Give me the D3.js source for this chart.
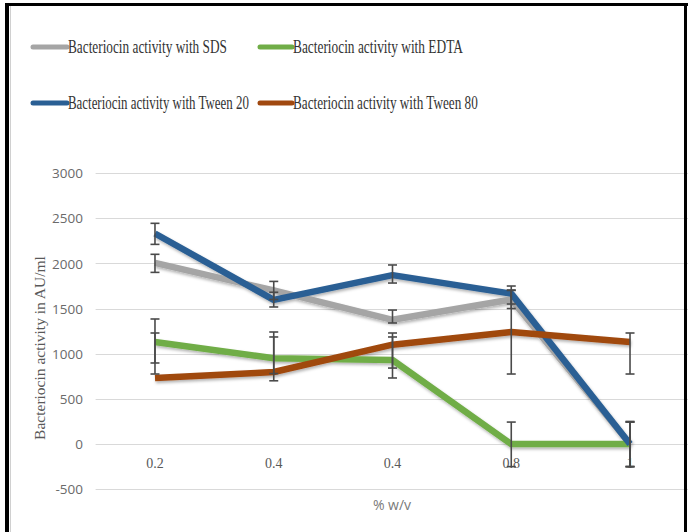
<!DOCTYPE html>
<html>
<head>
<meta charset="utf-8">
<script src="https://cdn.jsdelivr.net/npm/d3@7"></script>
<style>
  html, body { margin: 0; padding: 0; background: #fff; }
  svg { display: block; }
</style>
</head>
<body>
<svg id="chart" width="688" height="532"></svg>
<script>
// ---- data ----
const categories = ["0.2", "0.4", "0.4 ", "0.8", "1"];
const yTicks = [-500, 0, 500, 1000, 1500, 2000, 2500, 3000];

const seriesNames = [
  "Bacteriocin activity with SDS",
  "Bacteriocin activity with EDTA",
  "Bacteriocin activity with Tween 20",
  "Bacteriocin activity with Tween 80"
];
const seriesColors = ["#A5A5A5", "#70AD47", "#2A5F94", "#A0480F"];

const sdsValues   = [2005, 1700, 1375, 1600, 0];
const sdsLow      = [1900, 1600, 1340, 1500, -250];
const sdsHigh     = [2100, 1800, 1483, 1700, 250];

const edtaValues  = [1130, 950, 930, 0, 0];
const edtaLow     = [897, 700, 731, -250, -250];
const edtaHigh    = [1384, 1185, 1185, 243, 243];

const tw20Values  = [2330, 1595, 1870, 1665, 0];
const tw20Low     = [2210, 1517, 1782, 1550, -250];
const tw20High    = [2443, 1680, 1982, 1749, 243];

const tw80Values  = [730, 797, 1100, 1240, 1130];
const tw80Low     = [775, 780, 841, 775, 775];
const tw80High    = [1229, 1240, 1229, 1705, 1229];

const valueSets = [sdsValues, edtaValues, tw20Values, tw80Values];
const lowSets   = [sdsLow, edtaLow, tw20Low, tw80Low];
const highSets  = [sdsHigh, edtaHigh, tw20High, tw80High];

// ---- drawing ----
const svg = d3.select("#chart");
const W = 688, H = 532;

const defs = svg.append("defs");
const f = defs.append("filter").attr("id", "shadow")
  .attr("x", "-10%").attr("y", "-10%").attr("width", "130%").attr("height", "140%");
f.append("feDropShadow").attr("dx", 1).attr("dy", 2).attr("stdDeviation", 1.4)
  .attr("flood-color", "#000").attr("flood-opacity", 0.3);

svg.append("rect").attr("width", W).attr("height", H).attr("fill", "#fff");

const plot = { left: 95.6, right: 689.4 };
const x = d3.scaleBand().domain(categories).range([plot.left, plot.right]);
const y = d3.scaleLinear().domain([-500, 3000]).range([489.2, 173]);
const cx = c => x(c) + x.bandwidth() / 2;

// gridlines
svg.append("g").selectAll("line").data(yTicks).join("line")
  .attr("x1", plot.left).attr("x2", 688)
  .attr("y1", d => Math.round(y(d)) + 0.5).attr("y2", d => Math.round(y(d)) + 0.5)
  .attr("stroke", "#D9D9D9").attr("stroke-width", 1);

// y tick labels
const yAxis = d3.axisLeft(y).tickValues(yTicks).tickSize(0).tickPadding(0)
  .tickFormat(d => String(d));
const yg = svg.append("g").attr("transform", "translate(83,0)").call(yAxis);
yg.select(".domain").remove();
yg.selectAll("text")
  .attr("font-family", "'Open Sans', sans-serif").attr("font-size", "13.5px")
  .attr("fill", "#6A6A6A").attr("dy", "0.35em");

// x tick labels
const xAxis = d3.axisBottom(x).tickSize(0).tickPadding(0).tickFormat(d => d.trim());
const xg = svg.append("g").attr("transform", "translate(0," + y(0) + ")").call(xAxis);
xg.select(".domain").remove();
xg.selectAll("text")
  .attr("font-family", "'Liberation Serif', serif").attr("font-size", "14px")
  .attr("fill", "#595959").attr("y", 24).attr("dy", 0);

// lines
const line = d3.line().x((d, i) => cx(categories[i])).y(d => y(d));
const lg = svg.append("g").attr("filter", "url(#shadow)");
valueSets.forEach((vals, s) => {
  lg.append("path").datum(vals).attr("d", line)
    .attr("fill", "none").attr("stroke", seriesColors[s])
    .attr("stroke-width", 6.5).attr("stroke-linejoin", "round").attr("stroke-linecap", "butt");
});

// error bars
const eg = svg.append("g").attr("stroke", "#4A4A4A").attr("stroke-width", 1.6);
lowSets.forEach((lows, s) => {
  lows.forEach((lo, i) => {
    const hi = highSets[s][i];
    const xc = cx(categories[i]);
    eg.append("line").attr("x1", xc).attr("x2", xc).attr("y1", y(lo)).attr("y2", y(hi));
    eg.append("line").attr("x1", xc - 4.5).attr("x2", xc + 4.5).attr("y1", y(lo)).attr("y2", y(lo));
    eg.append("line").attr("x1", xc - 4.5).attr("x2", xc + 4.5).attr("y1", y(hi)).attr("y2", y(hi));
  });
});

// legend
const legendPos = [
  { lx: 33, tx: 67, ty: 47, len: 159 },
  { lx: 260, tx: 292, ty: 47, len: 170 },
  { lx: 33, tx: 67, ty: 103, len: 181 },
  { lx: 260, tx: 292, ty: 103, len: 185 }
];
const leg = svg.append("g");
seriesNames.forEach((name, s) => {
  const p = legendPos[s];
  leg.append("line").attr("x1", p.lx).attr("x2", p.tx).attr("y1", p.ty).attr("y2", p.ty)
    .attr("stroke", seriesColors[s]).attr("stroke-width", 5).attr("stroke-linecap", "round");
  const t = leg.append("text")
    .attr("font-family", "'Liberation Serif', serif").attr("font-size", "18.5px")
    .attr("fill", "#333")
    .text(name);
  const natural = t.node().getComputedTextLength();
  const sx = p.len / natural;
  t.attr("transform", "translate(" + (p.tx + 1) + "," + (p.ty + 6) + ") scale(" + sx + ",1)");
});

// axis titles
svg.append("text")
  .attr("transform", "translate(45,348) rotate(-90)")
  .attr("text-anchor", "middle")
  .attr("font-family", "'Liberation Serif', serif").attr("font-size", "15.5px")
  .attr("fill", "#595959")
  .text("Bacteriocin activity in AU/ml");

svg.append("text")
  .attr("x", 392).attr("y", 510)
  .attr("text-anchor", "middle")
  .attr("font-family", "'Open Sans', sans-serif").attr("font-size", "14px")
  .attr("fill", "#7A7A7A")
  .text("% w/v");

// borders
svg.append("line").attr("x1", 10.5).attr("x2", 10.5).attr("y1", 6).attr("y2", H)
  .attr("stroke", "#D0D0D0").attr("stroke-width", 1);
svg.append("line").attr("x1", 7).attr("x2", 7).attr("y1", 3).attr("y2", H)
  .attr("stroke", "#000").attr("stroke-width", 4);
svg.append("line").attr("x1", 5).attr("x2", 688).attr("y1", 4.5).attr("y2", 4.5)
  .attr("stroke", "#000").attr("stroke-width", 3);
svg.append("line").attr("x1", 685.5).attr("x2", 685.5).attr("y1", 3).attr("y2", H)
  .attr("stroke", "#000").attr("stroke-width", 3);
</script>
</body>
</html>
